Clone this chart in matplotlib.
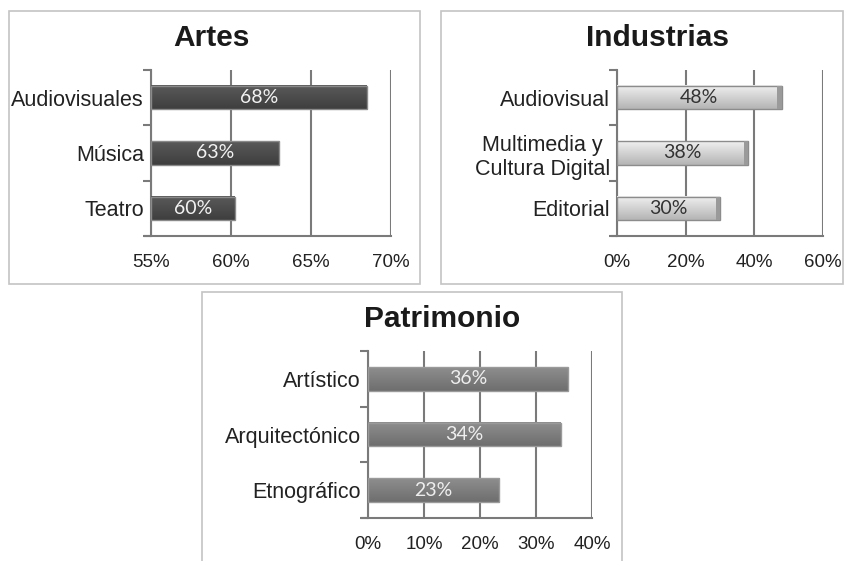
import numpy as np
import matplotlib.pyplot as plt
from matplotlib.patches import Rectangle

# ----------------------------------------------------------------------
# Data
# ----------------------------------------------------------------------
artes_cats = ["Audiovisuales", "Música", "Teatro"]
artes_vals = [68.5, 63.0, 60.25]
artes_lbls = ["68%", "63%", "60%"]

ind_cats = ["Audiovisual", "Multimedia y\nCultura Digital", "Editorial"]
ind_vals = [48.0, 38.3, 30.0]
ind_lbls = ["48%", "38%", "30%"]

pat_cats = ["Artístico", "Arquitectónico", "Etnográfico"]
pat_vals = [35.7, 34.4, 23.4]
pat_lbls = ["36%", "34%", "23%"]

W, H = 844, 561


def fig_box(fig, x0, y0, x1, y1):
    """Light grey panel frame given in pixel coordinates (top-left origin)."""
    fig.add_artist(Rectangle((x0 / W, 1 - y1 / H), (x1 - x0) / W, (y1 - y0) / H,
                             transform=fig.transFigure, fill=False,
                             edgecolor="#c4c4c4", lw=1.2))


def make_axes(fig, x0, y0, x1, y1):
    return fig.add_axes([x0 / W, 1 - y1 / H, (x1 - x0) / W, (y1 - y0) / H])


def gradient_bar(ax, y, x0, x1, h, top, bottom, edge):
    grad = np.linspace(0, 1, 64)[:, None]
    c0 = np.array(plt.matplotlib.colors.to_rgb(top))
    c1 = np.array(plt.matplotlib.colors.to_rgb(bottom))
    img = c0 + (c1 - c0) * grad[..., None]
    ax.imshow(img, extent=(x0, x1, y + h / 2, y - h / 2), aspect="auto",
              zorder=3, interpolation="bilinear")
    ax.add_patch(Rectangle((x0, y - h / 2), x1 - x0, h, fill=False,
                           edgecolor=edge, lw=1.0, zorder=4))


def style_panel(ax, cats, lo, hi, ticks, ticklabels, title, title_x, title_y):
    ax.set_xlim(lo, hi)
    ax.set_ylim(2.5, -0.5)
    ax.set_xticks(ticks)
    ax.set_xticklabels(ticklabels, fontsize=13.5, family="Liberation Sans",
                       color="#222222")
    ax.tick_params(axis="x", length=0, pad=13)
    ax.set_yticks([-0.5, 0.5, 1.5, 2.5])
    ax.set_yticklabels([])
    ax.set_yticks(range(len(cats)), minor=True)
    ax.set_yticklabels(cats, minor=True, fontsize=15.5,
                       family="Liberation Sans", color="#222222")
    ax.tick_params(axis="y", which="major", length=6, color="#7a7a7a", width=1.5)
    ax.tick_params(axis="y", which="minor", length=0, pad=5)
    for s in ["top", "right"]:
        ax.spines[s].set_visible(False)
    for s in ["left", "bottom"]:
        ax.spines[s].set_color("#7a7a7a")
        ax.spines[s].set_linewidth(1.5)
    ax.spines["bottom"].set_bounds(lo - (hi - lo) * 0.025, hi)
    ax.grid(axis="x", color="#7a7a7a", lw=1.5, zorder=0)
    ax.set_axisbelow(True)
    ax.set_facecolor("none")
    ax.text(title_x, title_y, title, fontsize=21.5, fontweight="bold",
            family="Liberation Sans", ha="center", va="center",
            color="#1a1a1a", clip_on=False)


fig = plt.figure(figsize=(8.44, 5.61), dpi=100)

fig_box(fig, 9, 11, 420, 284)
fig_box(fig, 441, 11, 843, 284)
fig_box(fig, 202, 292, 622, 575)

h = 0.42

# Artes
ax1 = make_axes(fig, 151, 70, 391, 236)
for i, v in enumerate(artes_vals):
    gradient_bar(ax1, i, 55, v, h, "#5a5a5a", "#3e3e3e", "#8a8a8a")
    ax1.text(55 + (v - 55) / 2, i, artes_lbls[i], color="#f2f2f2",
             fontsize=14, family="Lato", ha="center", va="center", zorder=5)
style_panel(ax1, artes_cats, 55, 70, [55, 60, 65, 70],
            ["55%", "60%", "65%", "70%"], "Artes", 58.8, -1.07)

# Industrias
ax2 = make_axes(fig, 617, 70, 823, 236)
for i, v in enumerate(ind_vals):
    gradient_bar(ax2, i, 0, v, h, "#f0f0f0", "#b4b4b4", "#8c8c8c")
    ax2.add_patch(Rectangle((v - 1.3, i - h / 2), 1.3, h, color="#9a9a9a",
                            zorder=4, lw=0))
    ax2.text(v / 2, i, ind_lbls[i], color="#333333", fontsize=14,
             family="Lato", ha="center", va="center", zorder=5)
style_panel(ax2, ind_cats, 0, 60, [0, 20, 40, 60],
            ["0%", "20%", "40%", "60%"], "Industrias", 11.7, -1.07)
for t in ax2.get_yticklabels(minor=True):
    t.set_multialignment("center")

# Patrimonio
ax3 = make_axes(fig, 368, 351, 592, 518)
for i, v in enumerate(pat_vals):
    gradient_bar(ax3, i, 0, v, h, "#8e8e8e", "#6e6e6e", "#9a9a9a")
    ax3.text(v / 2, i, pat_lbls[i], color="#eeeeee", fontsize=14,
             family="Lato", ha="center", va="center", zorder=5)
style_panel(ax3, pat_cats, 0, 40, [0, 10, 20, 30, 40],
            ["0%", "10%", "20%", "30%", "40%"], "Patrimonio", 13.2, -1.07)

fig.savefig("out.png", dpi=100)
